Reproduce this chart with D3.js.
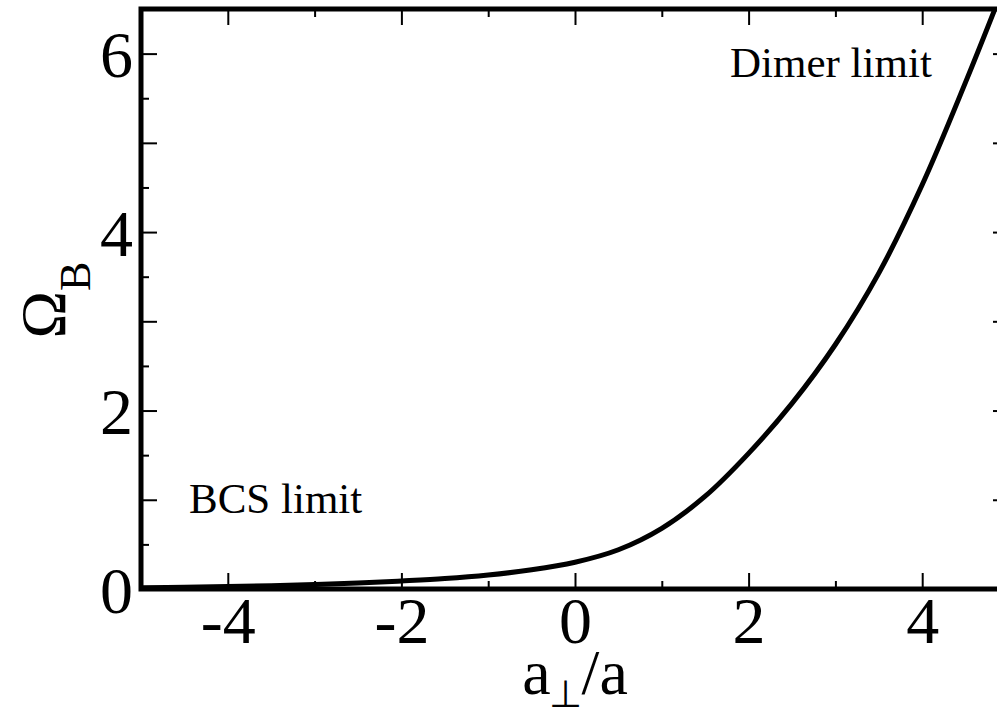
<!DOCTYPE html>
<html>
<head>
<meta charset="utf-8">
<script src="https://cdn.jsdelivr.net/npm/d3@7"></script>
<style>
  body { margin: 0; background: #fff; }
  text { font-family: "Liberation Serif", "Times New Roman", serif; fill: #000; }
</style>
</head>
<body>
<div id="chart"></div>
<script>
// a_perp / a on x, Omega_B on y
var xValues = [-5, -4.5, -4, -3.5, -3, -2.5, -2, -1.5, -1, -0.5, 0, 0.5, 1, 1.5, 2, 2.5, 3, 3.5, 4, 4.5, 4.85];
var omegaValues = [0.015, 0.02, 0.027, 0.037, 0.05, 0.067, 0.09, 0.117, 0.157, 0.215, 0.30, 0.44, 0.68, 1.04, 1.52, 2.08, 2.74, 3.54, 4.53, 5.68, 6.53];

var xMajor = [-4, -2, 0, 2, 4];
var xMinor = [-5, -3, -1, 1, 3, 5];
var yMajor = [0, 1, 2, 3, 4, 5, 6];
var yMinor = [0.5, 1.5, 2.5, 3.5, 4.5, 5.5, 6.5];
var yLabels = [0, 2, 4, 6];

var annotations = ["Dimer limit", "BCS limit"];

var width = 997, height = 715;
var plotLeft = 141, plotRight = 1009, plotTop = 9, plotBottom = 589;

var svg = d3.select("#chart")
    .append("svg")
    .attr("width", width)
    .attr("height", height);

var x = d3.scaleLinear().domain([-5, 5]).range([plotLeft, plotRight]);
var y = d3.scaleLinear().domain([0, 6.5]).range([plotBottom, plotTop]);

function ticks(g) {
    g.select(".domain").remove();
    g.selectAll("line").attr("stroke", "#000").attr("stroke-width", 2);
}

// bottom axis
svg.append("g")
    .attr("transform", "translate(0," + plotBottom + ")")
    .call(d3.axisBottom(x).tickValues(xMajor).tickSizeInner(-16).tickSizeOuter(0)
        .tickFormat(function (d) { return String(d); }))
    .call(ticks)
    .call(function (g) {
        g.selectAll("text")
            .attr("y", 54).attr("dy", null)
            .attr("font-size", "66px")
            .attr("font-family", "Liberation Serif");
    });
svg.append("g")
    .attr("transform", "translate(0," + plotBottom + ")")
    .call(d3.axisBottom(x).tickValues(xMinor).tickSizeInner(-8).tickSizeOuter(0).tickFormat(""))
    .call(ticks);

// top axis
svg.append("g")
    .attr("transform", "translate(0," + plotTop + ")")
    .call(d3.axisTop(x).tickValues(xMajor).tickSizeInner(-16).tickSizeOuter(0).tickFormat(""))
    .call(ticks);
svg.append("g")
    .attr("transform", "translate(0," + plotTop + ")")
    .call(d3.axisTop(x).tickValues(xMinor).tickSizeInner(-8).tickSizeOuter(0).tickFormat(""))
    .call(ticks);

// left axis
svg.append("g")
    .attr("transform", "translate(" + plotLeft + ",0)")
    .call(d3.axisLeft(y).tickValues(yMajor).tickSizeInner(-16).tickSizeOuter(0)
        .tickFormat(function (d) { return yLabels.indexOf(d) >= 0 ? String(d) : ""; }))
    .call(ticks)
    .call(function (g) {
        g.selectAll("text")
            .attr("x", -8).attr("dy", "23px")
            .attr("font-size", "66px")
            .attr("font-family", "Liberation Serif");
    });
svg.append("g")
    .attr("transform", "translate(" + plotLeft + ",0)")
    .call(d3.axisLeft(y).tickValues(yMinor).tickSizeInner(-8).tickSizeOuter(0).tickFormat(""))
    .call(ticks);

// right axis
svg.append("g")
    .attr("transform", "translate(" + plotRight + ",0)")
    .call(d3.axisRight(y).tickValues(yMajor).tickSizeInner(-16).tickSizeOuter(0).tickFormat(""))
    .call(ticks);
svg.append("g")
    .attr("transform", "translate(" + plotRight + ",0)")
    .call(d3.axisRight(y).tickValues(yMinor).tickSizeInner(-8).tickSizeOuter(0).tickFormat(""))
    .call(ticks);

// curve
svg.append("clipPath").attr("id", "plotclip")
    .append("rect")
    .attr("x", plotLeft).attr("y", plotTop)
    .attr("width", plotRight - plotLeft).attr("height", plotBottom - plotTop);

var line = d3.line()
    .x(function (d, i) { return x(xValues[i]); })
    .y(function (d) { return y(d); })
    .curve(d3.curveCatmullRom.alpha(0.5));

svg.append("path")
    .datum(omegaValues)
    .attr("clip-path", "url(#plotclip)")
    .attr("fill", "none")
    .attr("stroke", "#000")
    .attr("stroke-width", 5)
    .attr("d", line);

// frame
svg.append("rect")
    .attr("x", plotLeft).attr("y", plotTop)
    .attr("width", plotRight - plotLeft).attr("height", plotBottom - plotTop)
    .attr("fill", "none")
    .attr("stroke", "#000")
    .attr("stroke-width", 5);

// annotations
svg.append("text")
    .attr("x", 730).attr("y", 77)
    .attr("font-size", "43px")
    .text(annotations[0]);
svg.append("text")
    .attr("x", 189).attr("y", 513)
    .attr("font-size", "43px")
    .text(annotations[1]);

// axis titles
var xt = svg.append("text")
    .attr("x", 575).attr("y", 694)
    .attr("text-anchor", "middle")
    .attr("font-size", "64px");
xt.append("tspan").text("a");
xt.append("tspan").attr("font-size", "38px").attr("dx", -2).attr("dy", 13).text("\u22a5");
xt.append("tspan").attr("dy", -13).text("/a");

var yt = svg.append("text")
    .attr("transform", "translate(65,300) rotate(-90)")
    .attr("text-anchor", "middle")
    .attr("font-size", "64px");
yt.append("tspan").text("\u03a9");
yt.append("tspan").attr("font-size", "44px").attr("dy", 25).text("B");
</script>
</body>
</html>
